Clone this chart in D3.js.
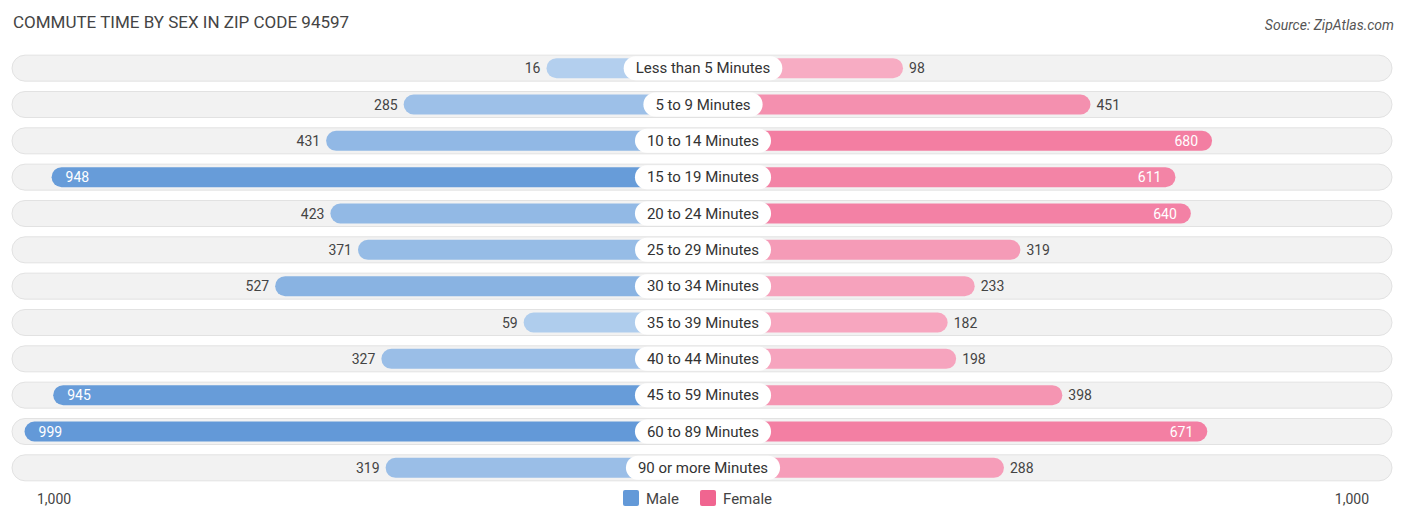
<!DOCTYPE html>
<meta charset="utf-8">
<style>
body { margin: 0; background: #fff; font-family: Roboto, "Open Sans", sans-serif; }
text { font-family: Roboto, "Open Sans", sans-serif; }
</style>
<body>
<svg id="chart" width="1406" height="523"></svg>
<script src="https://d3js.org/d3.v7.min.js"></script>
<script>
var categories = ["Less than 5 Minutes", "5 to 9 Minutes", "10 to 14 Minutes", "15 to 19 Minutes", "20 to 24 Minutes", "25 to 29 Minutes", "30 to 34 Minutes", "35 to 39 Minutes", "40 to 44 Minutes", "45 to 59 Minutes", "60 to 89 Minutes", "90 or more Minutes"];
var male = [16, 285, 431, 948, 423, 371, 527, 59, 327, 945, 999, 319];
var female = [98, 451, 680, 611, 640, 319, 233, 182, 198, 398, 671, 288];
var axisLabels = ["1,000", "1,000"];

var svg = d3.select("#chart");
var cx = 703, offset = 148;
var x = d3.scaleLinear().domain([0, 1000]).range([0, 531]);
var y = d3.scaleBand().domain(categories).range([50, 486]).paddingInner(0);
var maleColor = d3.scaleLinear().domain([0, 1000]).range(["#b4d0ee", "#6399d8"]);
var femaleColor = d3.scaleLinear().domain([0, 1000]).range(["#f8b4c9", "#f06590"]);

svg.append("text").attr("x", 13).attr("y", 28).attr("font-size", 17).attr("fill", "#444")
  .text("COMMUTE TIME BY SEX IN ZIP CODE 94597");
svg.append("text").attr("x", 1394).attr("y", 30).attr("font-size", 14).attr("fill", "#555")
  .attr("text-anchor", "end").attr("font-style", "italic").text("Source: ZipAtlas.com");

var rows = svg.selectAll("g.row").data(categories).enter().append("g")
  .attr("transform", function(d) { return "translate(0," + (y(d) + y.bandwidth() / 2) + ")"; });

rows.append("rect").attr("x", 12).attr("y", -13).attr("width", 1380).attr("height", 26)
  .attr("rx", 13).attr("fill", "#f2f2f2").attr("stroke", "#e2e2e2");

rows.append("rect")
  .attr("x", function(d, i) { return cx - offset - x(male[i]); })
  .attr("y", -10).attr("height", 20).attr("rx", 10)
  .attr("width", function(d, i) { return offset + x(male[i]); })
  .attr("fill", function(d, i) { return maleColor(male[i]); });
rows.append("rect")
  .attr("x", cx).attr("y", -10).attr("height", 20).attr("rx", 10)
  .attr("width", function(d, i) { return offset + x(female[i]); })
  .attr("fill", function(d, i) { return femaleColor(female[i]); });

rows.each(function(d, i) {
  var g = d3.select(this);
  var t = g.append("text").attr("x", cx).attr("y", 5).attr("text-anchor", "middle")
    .attr("font-size", 15).attr("fill", "#333").text(d);
  var w = t.node().getComputedTextLength() + 24;
  g.insert("rect", "text").attr("x", cx - w / 2).attr("y", -12).attr("width", w).attr("height", 24)
    .attr("rx", 12).attr("fill", "#fff");

  var mEnd = cx - offset - x(male[i]);
  var mIn = male[i] > 600;
  g.append("text").attr("y", 5).attr("font-size", 14)
    .attr("x", mIn ? mEnd + 14 : mEnd - 6)
    .attr("text-anchor", mIn ? "start" : "end")
    .attr("fill", mIn ? "#fff" : "#444").text(male[i]);
  var fEnd = cx + offset + x(female[i]);
  var fIn = female[i] > 600;
  g.append("text").attr("y", 5).attr("font-size", 14)
    .attr("x", fIn ? fEnd - 14 : fEnd + 6)
    .attr("text-anchor", fIn ? "end" : "start")
    .attr("fill", fIn ? "#fff" : "#444").text(female[i]);
});

svg.append("text").attr("x", 37).attr("y", 504).attr("font-size", 14).attr("fill", "#444").text(axisLabels[0]);
svg.append("text").attr("x", 1369).attr("y", 504).attr("font-size", 14).attr("fill", "#444")
  .attr("text-anchor", "end").text(axisLabels[1]);

var legend = [["Male", "#6399d8", 623], ["Female", "#f06590", 700]];
legend.forEach(function(l) {
  svg.append("rect").attr("x", l[2]).attr("y", 490).attr("width", 16).attr("height", 16).attr("rx", 2).attr("fill", l[1]);
  svg.append("text").attr("x", l[2] + 23).attr("y", 504).attr("font-size", 15).attr("fill", "#444").text(l[0]);
});
</script>
</body>
